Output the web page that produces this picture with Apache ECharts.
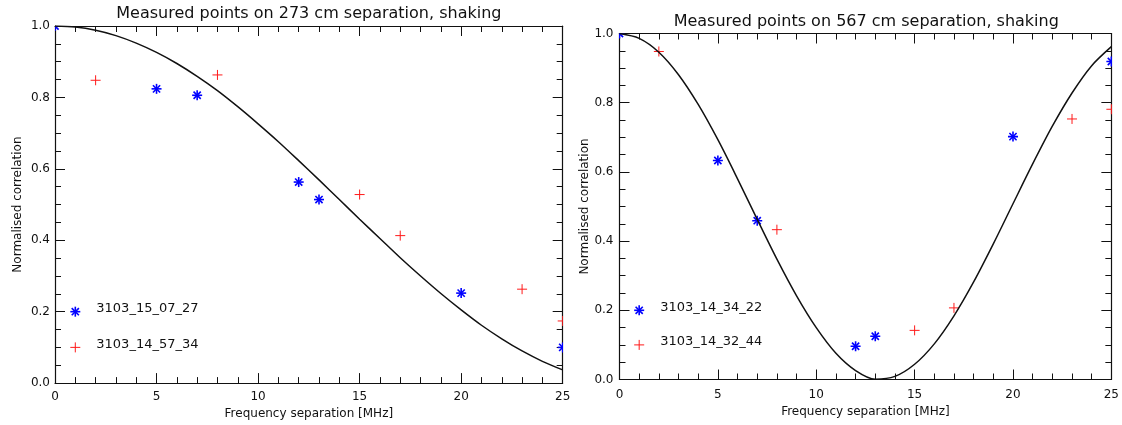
<!DOCTYPE html>
<html>
<head>
<meta charset="utf-8">
<script src="https://cdn.jsdelivr.net/npm/echarts@6/dist/echarts.min.js"></script>
<style>
html,body{margin:0;padding:0;background:#fff;}
#c{width:1122px;height:425px;}
</style>
</head>
<body>
<div id="c"></div>
<script>
// ---- data ----
const titles = ['Measured points on 273 cm separation, shaking', 'Measured points on 567 cm separation, shaking'];
const xName = 'Frequency separation [MHz]';
const yName = 'Normalised correlation';
const xTicks = [0, 5, 10, 15, 20, 25];
const yTicks = [0.0, 0.2, 0.4, 0.6, 0.8, 1.0];

const modelFreq = [0,1,2,3,4,5,6,7,8,9,10,11,12,13,14,15,16,17,18,19,20,21,22,23,24,25];
const leftModel = [1.000,0.997,0.988,0.973,0.952,0.926,0.895,0.859,0.819,0.774,0.726,0.676,0.623,0.569,0.514,0.459,0.405,0.351,0.300,0.251,0.205,0.162,0.124,0.090,0.061,0.037];
const rightModel = [1.000,0.986,0.946,0.881,0.795,0.693,0.580,0.463,0.348,0.242,0.150,0.076,0.026,0.001,0.009,0.044,0.103,0.184,0.282,0.392,0.508,0.623,0.732,0.828,0.907,0.962];

const leftBlueX = [0, 5, 7, 12, 13, 20, 25];
const leftBlueY = [1.000, 0.824, 0.806, 0.563, 0.514, 0.252, 0.100];
const leftRedX = [2, 8, 15, 17, 23, 25];
const leftRedY = [0.848, 0.863, 0.528, 0.413, 0.263, 0.174];

const rightBlueX = [0, 5, 7, 12, 13, 20, 25];
const rightBlueY = [1.000, 0.633, 0.459, 0.096, 0.125, 0.702, 0.919];
const rightRedX = [2, 8, 15, 17, 23, 25];
const rightRedY = [0.948, 0.433, 0.142, 0.207, 0.753, 0.781];

const leftLegend = ['3103_15_07_27', '3103_14_57_34'];
const rightLegend = ['3103_14_34_22', '3103_14_32_44'];
const legendX = [1, 1];
const legendY = [0.2, 0.1];

// ---- rendering ----
const BLUE = '#0000ff', RED = '#ff1a1a', INK = '#111';
const FONT = '"DejaVu Sans", sans-serif';

function pairs(xs, ys) { return xs.map((x, i) => [x, ys[i]]); }

function markerShapes(kind, x, y, color) {
  const L = (x1, y1, x2, y2, w) => ({ type: 'line', shape: { x1, y1, x2, y2 }, style: { stroke: color, lineWidth: w } });
  if (kind === 'plus') {
    return [L(x - 5, y, x + 5, y, 1), L(x, y - 5, x, y + 5, 1)];
  }
  const d = 3.6;
  return [L(x - 5, y, x + 5, y, 1.6), L(x, y - 5, x, y + 5, 1.6),
          L(x - d, y - d, x + d, y + d, 1.6), L(x - d, y + d, x + d, y - d, 1.6)];
}

function markerSeries(g, kind, color, data) {
  return {
    type: 'custom', xAxisIndex: g * 2, yAxisIndex: g * 2, clip: true, data: data,
    renderItem: function (params, api) {
      const p = api.coord([api.value(0), api.value(1)]);
      return { type: 'group', children: markerShapes(kind, p[0], p[1], color) };
    }
  };
}

function legendSeries(g, names) {
  const data = names.map((n, i) => [legendX[i], legendY[i], i]);
  return {
    type: 'custom', xAxisIndex: g * 2, yAxisIndex: g * 2, data: data, silent: true,
    renderItem: function (params, api) {
      const i = api.value(2);
      const p = api.coord([api.value(0), api.value(1)]);
      const kids = markerShapes(i === 0 ? 'star' : 'plus', p[0], p[1], i === 0 ? BLUE : RED);
      kids.push({ type: 'text', x: p[0] + 21, y: p[1] - 3,
        style: { text: names[i], fill: INK, font: '13px ' + FONT, verticalAlign: 'middle', align: 'left' } });
      return { type: 'group', children: kids };
    }
  };
}

const grids = [
  { left: 55, right: 1122 - 562.7, top: 26, bottom: 425 - 386 },
  { left: 619.5, right: 1122 - 1113, top: 33.5, bottom: 425 - 379.5 }
];
const nameGapsX = [24, 22];
const labelMarginX = [8, 9];
const nameGapsY = [31, 27];
const labelMarginY = [5, 6];

const axLine = { show: true, onZero: false, lineStyle: { color: INK, width: 1.2 } };
function xAxisPair(g) {
  const base = { type: 'value', gridIndex: g, min: xTicks[0], max: xTicks[xTicks.length - 1], interval: xTicks[1] - xTicks[0],
    splitLine: { show: false }, axisLine: axLine,
    axisTick: { show: true, inside: true, length: 10, lineStyle: { color: INK } },
    minorTick: { show: true, splitNumber: 5, length: 6, lineStyle: { color: INK } } };
  return [
    Object.assign({}, base, { position: 'bottom', name: xName, nameLocation: 'middle', nameGap: nameGapsX[g],
      nameTextStyle: { fontFamily: FONT, fontSize: 12, color: INK },
      axisLabel: { show: true, margin: labelMarginX[g], fontFamily: FONT, fontSize: 12, color: INK } }),
    Object.assign({}, base, { position: 'top', axisLabel: { show: false } })
  ];
}
function yAxisPair(g) {
  const base = { type: 'value', gridIndex: g, min: yTicks[0], max: yTicks[yTicks.length - 1], interval: yTicks[1] - yTicks[0],
    splitLine: { show: false }, axisLine: axLine,
    axisTick: { show: true, inside: true, length: 10, lineStyle: { color: INK } },
    minorTick: { show: true, splitNumber: 4, length: 6, lineStyle: { color: INK } } };
  return [
    Object.assign({}, base, { position: 'left', name: yName, nameLocation: 'middle', nameGap: nameGapsY[g],
      nameTextStyle: { fontFamily: FONT, fontSize: 12, color: INK },
      axisLabel: { show: true, margin: labelMarginY[g], fontFamily: FONT, fontSize: 12, color: INK,
        formatter: v => v.toFixed(1) } }),
    Object.assign({}, base, { position: 'right', axisLabel: { show: false } })
  ];
}

function modelSeries(g, ys) {
  return { type: 'line', xAxisIndex: g * 2, yAxisIndex: g * 2, data: pairs(modelFreq, ys),
    showSymbol: false, smooth: 0.3, clip: true, lineStyle: { color: INK, width: 1.5 }, silent: true };
}

const option = {
  backgroundColor: '#fff',
  animation: false,
  grid: grids,
  xAxis: xAxisPair(0).concat(xAxisPair(1)),
  yAxis: yAxisPair(0).concat(yAxisPair(1)),
  graphic: [
    { type: 'text', x: (grids[0].left + 562.7) / 2, y: 14, style: { text: titles[0], align: 'center', verticalAlign: 'middle', font: '16px ' + FONT, fill: INK } },
    { type: 'text', x: (grids[1].left + 1113) / 2, y: 21.5, style: { text: titles[1], align: 'center', verticalAlign: 'middle', font: '16px ' + FONT, fill: INK } }
  ],
  series: [
    modelSeries(0, leftModel),
    modelSeries(1, rightModel),
    markerSeries(0, 'star', BLUE, pairs(leftBlueX, leftBlueY)),
    markerSeries(0, 'plus', RED, pairs(leftRedX, leftRedY)),
    markerSeries(1, 'star', BLUE, pairs(rightBlueX, rightBlueY)),
    markerSeries(1, 'plus', RED, pairs(rightRedX, rightRedY)),
    legendSeries(0, leftLegend),
    legendSeries(1, rightLegend)
  ]
};

const chart = echarts.init(document.getElementById('c'), null, { renderer: 'canvas' });
chart.setOption(option);
</script>
</body>
</html>
